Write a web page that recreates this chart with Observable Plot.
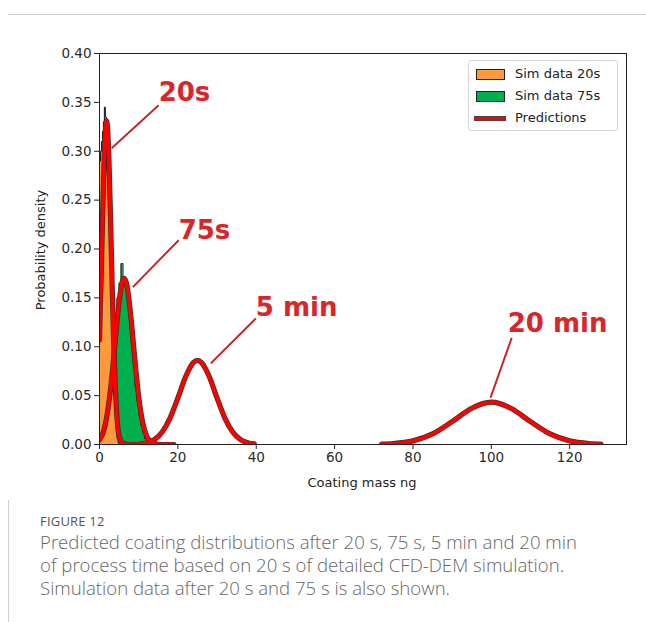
<!DOCTYPE html>
<html><head><meta charset="utf-8">
<script src="https://cdn.jsdelivr.net/npm/d3@7"></script>
<script src="https://cdn.jsdelivr.net/npm/@observablehq/plot@0.6"></script>
<style>
body{margin:0;background:#fff;width:646px;height:622px;position:relative;overflow:hidden;font-family:"DejaVu Sans",sans-serif}
#topline{position:absolute;left:8px;top:14px;right:0;height:1px;background:#cfcfcf}
#leftline{position:absolute;left:8px;top:500px;bottom:0;width:1px;background:#cfcfcf}
#chart{position:absolute;left:0;top:0}
#legend{position:absolute;left:468px;top:60px;width:150px;height:71px;border:1px solid #d6d6d6;border-radius:3px;background:rgba(255,255,255,0.85);box-sizing:border-box}
.lrow{position:absolute;left:0;height:22px;width:150px;font-size:13px;color:#222}
.lrow span{position:absolute;left:46px;top:3px;white-space:nowrap}
.patch{position:absolute;left:7px;top:6px;width:27px;height:9px;border:1px solid #222}
.lline{position:absolute;left:5px;top:9px;width:32px;height:3px;background:#ff0000;border-top:1px solid #444;border-bottom:1px solid #444}
.axlab{position:absolute;font-size:13px;color:#222;white-space:nowrap}
#cap{position:absolute;left:40px;top:512px;font-family:"Open Sans",Lato,sans-serif;color:#666}
#fig{font-size:13px;color:#555;letter-spacing:0.2px;margin-bottom:0px}
.cl{font-size:18.6px;line-height:23px;font-weight:300;color:#666;white-space:nowrap}
</style></head>
<body>
<div id="topline"></div><div id="leftline"></div>
<div id="chart"></div>
<div id="legend">
 <div class="lrow" style="top:2px"><div class="patch" style="background:#fd9a3c"></div><span>Sim data 20s</span></div>
 <div class="lrow" style="top:24px"><div class="patch" style="background:#00b04f"></div><span>Sim data 75s</span></div>
 <div class="lrow" style="top:46px"><div class="lline"></div><span>Predictions</span></div>
</div>
<div class="axlab" id="ylab" style="left:40px;top:250px;transform:translate(-50%,-50%) rotate(-90deg)">Probability density</div>
<div class="axlab" id="xlab" style="left:362px;top:482px;transform:translate(-50%,-50%)">Coating mass ng</div>
<div id="cap">
 <div id="fig">FIGURE 12</div>
 <div class="cl">Predicted coating distributions after 20 s, 75 s, 5 min and 20 min</div>
 <div class="cl">of process time based on 20 s of detailed CFD-DEM simulation.</div>
 <div class="cl">Simulation data after 20 s and 75 s is also shown.</div>
</div>
<script>
// Simulation histograms (bin left edges, densities)
const hist20Edges = [0,0.25,0.5,0.75,1,1.25,1.5,1.75,2,2.25,2.5,2.75,3,3.25,3.5,3.75,4,4.25,4.5,4.75,5];
const hist20Vals  = [0.29,0.30,0.31,0.32,0.33,0.345,0.335,0.32,0.30,0.27,0.23,0.19,0.15,0.11,0.08,0.05,0.03,0.015,0.006,0.002];
const hist75Edges = [0,0.5,1,1.5,2,2.5,3,3.5,4,4.5,5,5.5,6,6.5,7,7.5,8,8.5,9,9.5,10,10.5,11,11.5,12,12.5,13];
const hist75Vals  = [0.005,0.01,0.02,0.03,0.045,0.06,0.08,0.10,0.125,0.15,0.165,0.185,0.17,0.165,0.15,0.13,0.105,0.085,0.06,0.045,0.03,0.02,0.012,0.006,0.003,0.001];

// Predictions
const pred20sX = [0,0.4,0.8,1.2,1.6,1.8,2.0,2.4,2.8,3.2,3.6,4.0,4.5,5.0,6.0,8.0,10.0];
const pred20sY = [0.107,0.168,0.234,0.292,0.326,0.331,0.326,0.292,0.234,0.168,0.107,0.062,0.026,0.009,0.001,0,0];
const pred75sX = [0,1,2,3,4,5,6,6.3,7,8,9,10,11,12,13,14,16,19];
const pred75sY = [0.005,0.013,0.032,0.063,0.105,0.146,0.169,0.170,0.163,0.131,0.088,0.049,0.023,0.009,0.003,0.001,0,0];
const pred5mX = [10.5,12,14,16,18,20,22,24,25,26,28,30,32,34,36,38,39.5];
const pred5mY = [0.0006,0.0016,0.0049,0.0127,0.027,0.0476,0.0695,0.084,0.086,0.084,0.0695,0.0476,0.027,0.0127,0.0049,0.0016,0.0006];
const pred20mX = [72,75,80,85,90,95,100,105,110,115,120,125,128];
const pred20mY = [0.0003,0.0009,0.0037,0.0108,0.0234,0.0371,0.0433,0.0371,0.0234,0.0108,0.0037,0.0009,0.0003];

// Annotations
const annLabels = ["20s","75s","5 min","20 min"];
const annTextX = [15.1,20.2,39.9,104.2];
const annTextY = [0.360,0.219,0.140,0.124];
const annPointX = [3.1,8.5,28.4,99.8];
const annPointY = [0.303,0.161,0.083,0.048];
const annLineEndX = [15.1,20.2,39.9,105.2];
const annLineEndY = [0.347,0.209,0.129,0.109];

const yTicks = [0,0.05,0.10,0.15,0.20,0.25,0.30,0.35,0.40];
const xTicks = [0,20,40,60,80,100,120];

function histPts(edges, vals){
  const pts = [{x:edges[0], y:0}];
  vals.forEach((v,i)=>pts.push({x:edges[i], y:v}));
  pts.push({x:edges[edges.length-1], y:0});
  return pts;
}
const h20 = histPts(hist20Edges, hist20Vals);
const h75 = histPts(hist75Edges, hist75Vals);
const preds = [[pred20sX,pred20sY],[pred75sX,pred75sY],[pred5mX,pred5mY],[pred20mX,pred20mY]]
  .flatMap(([xs,ys],k)=>xs.map((x,i)=>({x, y:ys[i], k})));
const ann = annLabels.map((t,i)=>({t, tx:annTextX[i], ty:annTextY[i], px:annPointX[i], py:annPointY[i], ex:annLineEndX[i], ey:annLineEndY[i]}));

const chart = Plot.plot({
  width: 646, height: 500,
  marginLeft: 99, marginRight: 20, marginTop: 53, marginBottom: 56,
  style: {fontFamily: "DejaVu Sans, sans-serif", fontSize: "13.5px", color: "#2a2a2a", background: "transparent"},
  x: {domain: [0, 134.5]},
  y: {domain: [0, 0.4]},
  marks: [
    Plot.areaY(h75, {x:"x", y:"y", curve:"step-after", fill:"#00b04f"}),
    Plot.lineY(h75, {x:"x", y:"y", curve:"step-after", stroke:"#1a1a1a", strokeWidth:1}),
    Plot.areaY(h20, {x:"x", y:"y", curve:"step-after", fill:"#fd9a3c"}),
    Plot.lineY(h20, {x:"x", y:"y", curve:"step-after", stroke:"#1a1a1a", strokeWidth:1}),
    Plot.line(preds, {x:"x", y:"y", z:"k", curve:"monotone-x", stroke:"#333", strokeWidth:5.2, clip:true}),
    Plot.line(preds, {x:"x", y:"y", z:"k", curve:"monotone-x", stroke:"#ff0000", strokeWidth:3.8, clip:true}),
    Plot.link(ann, {x1:"px", y1:"py", x2:"ex", y2:"ey", stroke:"#c4262a", strokeWidth:2}),
    Plot.text(ann, {x:"tx", y:"ty", text:"t", textAnchor:"start", fill:"#d8262b", fontSize:26, fontWeight:"bold", fontFamily:"DejaVu Sans"}),
    Plot.frame({stroke:"#222", strokeWidth:1}),
    Plot.axisX({ticks: xTicks, tickSize:5, tickPadding:3, label:null, stroke:"#222"}),
    Plot.axisY({ticks: yTicks, tickSize:5, tickPadding:3, tickFormat: d3.format(".2f"), label:null, stroke:"#222"})
  ]
});
document.getElementById("chart").appendChild(chart);
</script>
</body></html>
